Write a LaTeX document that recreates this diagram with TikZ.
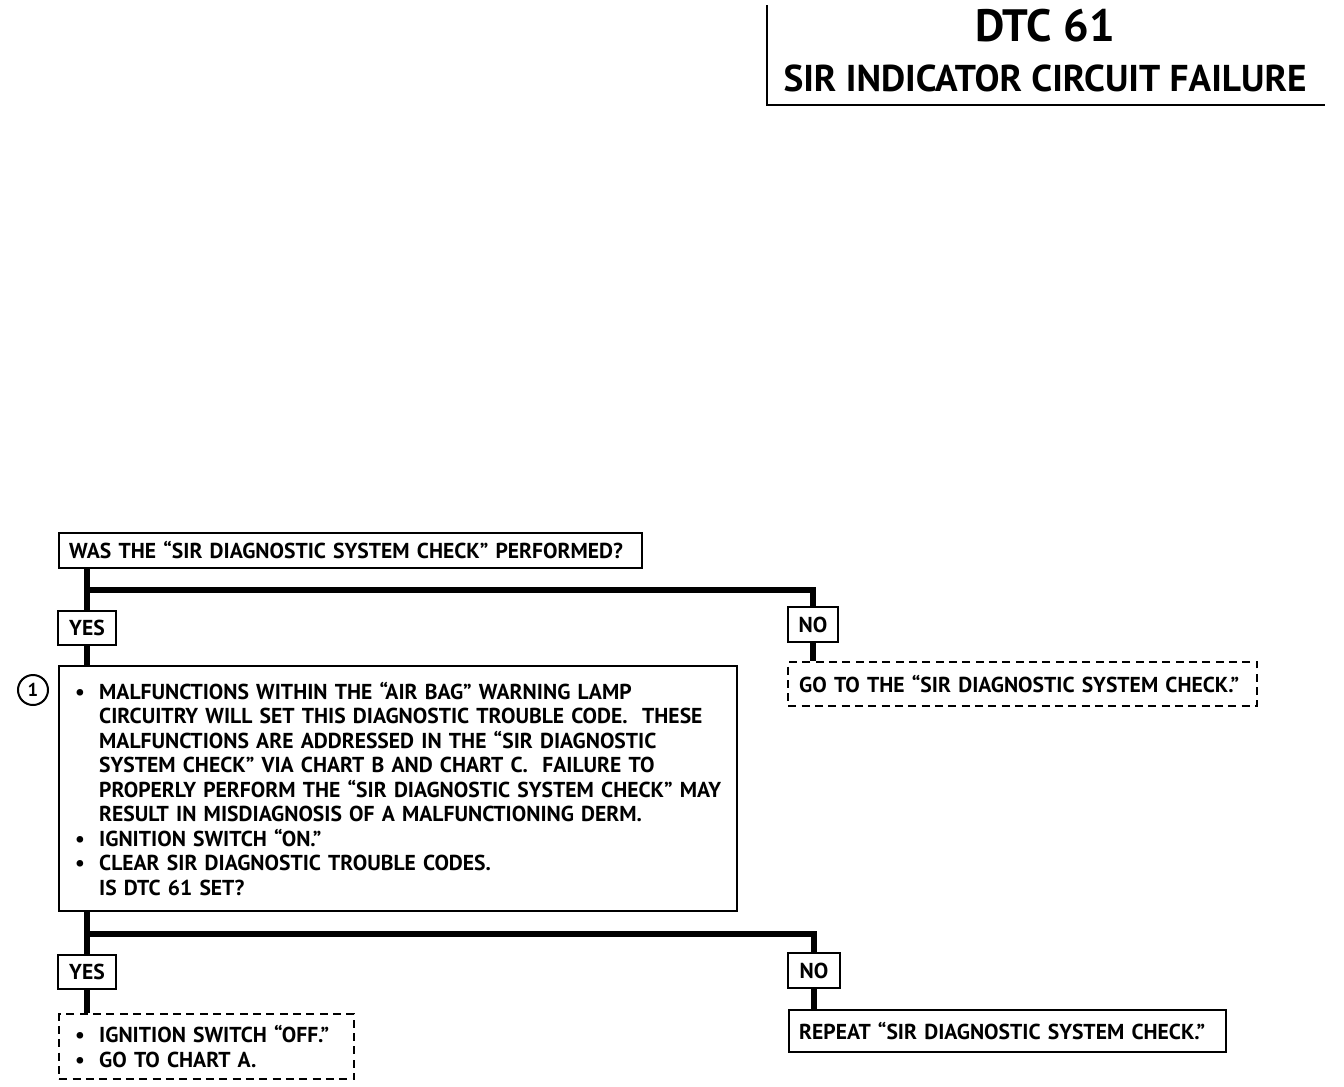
\documentclass[tikz,border=0pt]{standalone}
\usepackage{fontspec}
\setmainfont{PT Sans}
\begin{document}
\begin{tikzpicture}[x=0.75pt,y=-0.75pt,
  box/.style={draw,line width=1.8pt,inner sep=0pt,font=\bfseries\fontsize{16.2}{18.4}\selectfont},
  dbox/.style={box,dashed,dash pattern=on 6pt off 4pt},
  trunk/.style={line width=4.5pt},
  lbl/.style={box,minimum height=25.5pt,align=center}]
\useasboundingbox (0,0) rectangle (1344,1086);
% title
\draw[line width=1.8pt] (767,5) -- (767,105) -- (1325,105);
\node[font=\bfseries\fontsize{34}{38}\selectfont] (t1) at (1045,26) {DTC 61};
\node[font=\bfseries\fontsize{28}{34}\selectfont] (t2) at (1045,78) {SIR INDICATOR CIRCUIT FAILURE};
% boxes
\node[box,anchor=west,minimum height=26.25pt,text width=422.25pt,inner xsep=7.5pt,align=left] (q1) at (58,550.5)
  {WAS THE “SIR DIAGNOSTIC SYSTEM CHECK” PERFORMED?};
\node[lbl,minimum width=43.5pt] (yes1) at (87,628) {YES};
\node[lbl,minimum width=37.5pt,minimum height=26.25pt] (no1) at (813,624.5) {NO};
\node[dbox,anchor=west,minimum height=33pt,text width=335.25pt,inner xsep=8.25pt,align=left] (d1) at (787,684)
  {GO TO THE “SIR DIAGNOSTIC SYSTEM CHECK.”};
\node[box,anchor=north west,minimum height=183.75pt,text width=484.5pt,inner xsep=12pt,align=left] (q2) at (58,665)
  {\makebox[18pt][l]{•}MALFUNCTIONS WITHIN THE “AIR BAG” WARNING LAMP\\
   \hspace*{18pt}CIRCUITRY WILL SET THIS DIAGNOSTIC TROUBLE CODE.\ \ THESE\\
   \hspace*{18pt}MALFUNCTIONS ARE ADDRESSED IN THE “SIR DIAGNOSTIC\\
   \hspace*{18pt}SYSTEM CHECK” VIA CHART B AND CHART C.\ \ FAILURE TO\\
   \hspace*{18pt}PROPERLY PERFORM THE “SIR DIAGNOSTIC SYSTEM CHECK” MAY\\
   \hspace*{18pt}RESULT IN MISDIAGNOSIS OF A MALFUNCTIONING DERM.\\
   \makebox[18pt][l]{•}IGNITION SWITCH “ON.”\\
   \makebox[18pt][l]{•}CLEAR SIR DIAGNOSTIC TROUBLE CODES.\\
   \hspace*{18pt}IS DTC 61 SET?};
\node[draw,circle,line width=1.5pt,minimum size=22.5pt,inner sep=0pt,font=\bfseries\fontsize{14}{16}\selectfont] (c1) at (33,690) {1};
\node[lbl,minimum width=43.5pt] (yes2) at (87,972) {YES};
\node[lbl,minimum width=39pt,minimum height=26.25pt] (no2) at (814,970.5) {NO};
\node[dbox,anchor=north west,minimum height=48.75pt,text width=197.25pt,inner xsep=12pt,align=left] (d2) at (58,1013)
  {\makebox[18pt][l]{•}IGNITION SWITCH “OFF.”\\
   \makebox[18pt][l]{•}GO TO CHART A.};
\node[box,anchor=west,minimum height=31.5pt,text width=312.75pt,inner xsep=7.5pt,align=left] (r2) at (788,1031)
  {REPEAT “SIR DIAGNOSTIC SYSTEM CHECK.”};
% connectors
\coordinate (b1) at (88,590);
\coordinate (b2) at (88,934);
\draw[trunk] (q1.south -| yes1) -- (yes1.north);
\draw[trunk] (yes1.south) -- (q2.north -| yes1);
\draw[trunk] (b1) -| (no1.north);
\draw[trunk] (no1.south) -- (d1.north -| no1);
\draw[trunk] (q2.south -| yes2) -- (yes2.north);
\draw[trunk] (yes2.south) -- (d2.north -| yes2);
\draw[trunk] (b2) -| (no2.north);
\draw[trunk] (no2.south) -- (r2.north -| no2);
\end{tikzpicture}
\end{document}
